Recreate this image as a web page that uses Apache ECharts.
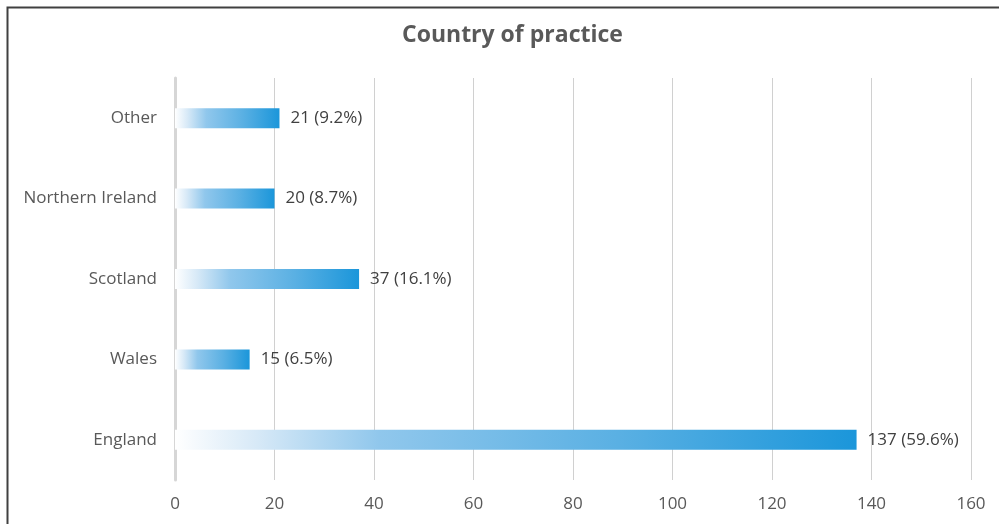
<!DOCTYPE html>
<html>
<head>
<meta charset="utf-8">
<script src="https://cdn.jsdelivr.net/npm/echarts@6/dist/echarts.min.js"></script>
<style>
html,body{margin:0;padding:0;background:#fff;}
#chart{width:999px;height:524px;}
</style>
</head>
<body>
<div id="chart"></div>
<script>
var categories = ['England', 'Wales', 'Scotland', 'Northern Ireland', 'Other'];
var counts = [137, 15, 37, 20, 21];
var percents = ['59.6%', '6.5%', '16.1%', '8.7%', '9.2%'];
var xTicks = [0, 20, 40, 60, 80, 100, 120, 140, 160];

var chart = echarts.init(document.getElementById('chart'), null, {renderer: 'canvas'});
var fontFam = '"Open Sans", "Noto Sans", sans-serif';
chart.setOption({
  animation: false,
  backgroundColor: '#fff',
  title: {
    text: 'Country of practice',
    left: 397,
    top: 19,
    textStyle: {fontFamily: fontFam, fontSize: 23, fontWeight: 'bold', color: '#595959'}
  },
  graphic: [{
    type: 'polyline',
    shape: {points: [[7.5, 524], [7.5, 7.5], [999, 7.5]]},
    style: {stroke: '#404040', lineWidth: 2, fill: null},
    z: 100
  }],
  grid: {left: 175, right: 28, top: 78, bottom: 44, containLabel: false},
  xAxis: {
    type: 'value',
    min: xTicks[0],
    max: xTicks[xTicks.length - 1],
    interval: 20,
    axisLine: {show: false},
    axisTick: {show: false},
    splitLine: {show: true, lineStyle: {color: '#d0d0d0', width: 1}},
    axisLabel: {margin: 16, fontFamily: fontFam, fontSize: 17, color: '#595959'}
  },
  yAxis: {
    type: 'category',
    data: categories,
    axisLine: {show: true, lineStyle: {color: '#d6d6d6', width: 3}},
    axisTick: {show: false},
    axisLabel: {margin: 18, fontFamily: fontFam, fontSize: 17, color: '#595959'}
  },
  series: [{
    type: 'bar',
    data: counts,
    barWidth: 20,
    itemStyle: {
      color: new echarts.graphic.LinearGradient(0, 0, 1, 0, [
        {offset: 0, color: '#ffffff'},
        {offset: 0.12, color: '#d7e9f7'},
        {offset: 0.3, color: '#90c7ec'},
        {offset: 0.65, color: '#5ab0e3'},
        {offset: 1, color: '#1b96da'}
      ])
    },
    label: {
      show: true,
      position: 'right',
      distance: 11,
      fontFamily: fontFam,
      fontSize: 17,
      color: '#404040',
      formatter: function (p) { return counts[p.dataIndex] + ' (' + percents[p.dataIndex] + ')'; }
    }
  }]
});
</script>
</body>
</html>
